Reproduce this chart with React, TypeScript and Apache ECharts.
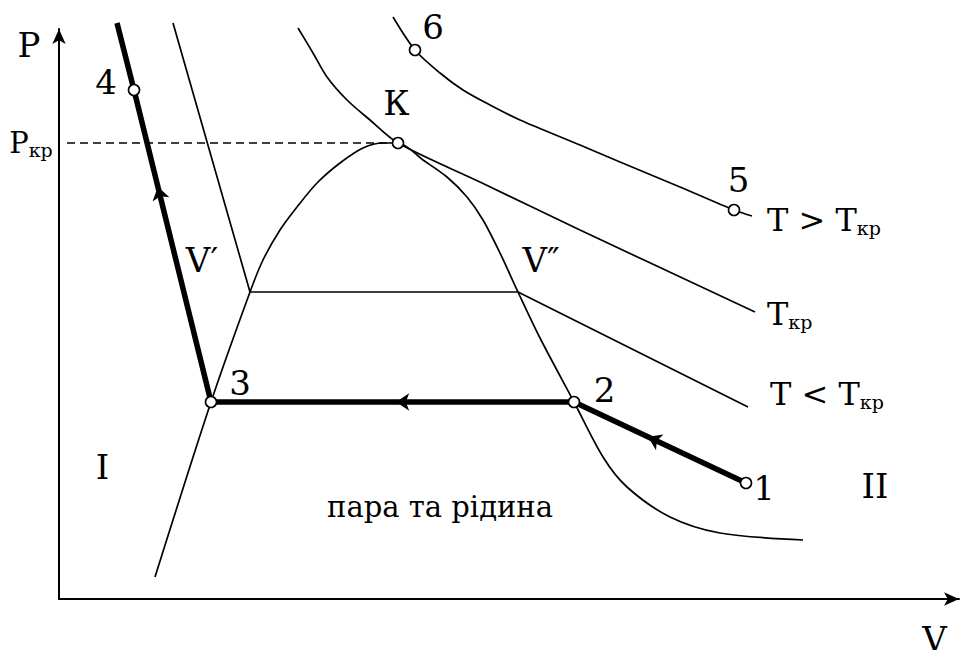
import React, { useEffect, useRef } from 'react';
import * as echarts from 'echarts';

// Axis ranges: volume V (horizontal) and pressure P (vertical), arbitrary units
const V_MAX = 90;
const P_MAX = 57;

// Isothermal process 1 → 2 → 3 → 4, continuing up the liquid branch past 4
const PROCESS_V = [68.7, 51.5, 15.2, 7.5, 5.8];
const PROCESS_P = [11.6, 19.7, 19.7, 50.9, 57.6];

// Critical point К
const CRIT_V = 33.9;
const CRIT_P = 45.6;
const DASH_START_V = 0.8;

// Boundary of the two-phase region (liquid branch → К → vapour branch)
const SAT_V = [9.6, 15.2, 19.1, 20.4, 22.1, 23.8, 25.8, 28.1, 30.4, 32.4, 33.9, 36.4, 38.8, 40.8, 42.4, 44.1, 45.9, 48.1, 51.5, 54.4, 56.8, 61.1, 66.1, 74.4];
const SAT_P = [2.2, 19.7, 30.7, 33.9, 36.9, 39.2, 41.6, 43.6, 45.1, 45.6, 45.6, 43.9, 42.2, 40.2, 37.9, 34.6, 30.7, 26.1, 19.7, 14.2, 11.2, 8.2, 6.6, 5.9];

// Critical isotherm T_кр
const T_CR_V = [23.9, 25.4, 26.8, 28.8, 31.1, 33.9, 42.1, 52.1, 69.6];
const T_CR_P = [57.1, 54.6, 52.2, 49.9, 47.9, 45.6, 41.7, 36.9, 28.7];

// Isotherm T > T_кр (points 6 and 5 lie on it)
const T_HI_V = [33.4, 35.6, 38.1, 40.4, 43.1, 46.1, 52.1, 56.1, 62.1, 67.5, 69.3];
const T_HI_P = [58.2, 54.9, 52.6, 50.9, 49.4, 47.9, 45.4, 43.7, 41.2, 38.9, 38.3];
const POINT_6 = 1;
const POINT_5 = 9;

// Isotherm T < T_кр with its horizontal two-phase segment V′ … V″
const T_LO_V = [11.4, 19.1, 45.9, 68.9];
const T_LO_P = [57.6, 30.7, 30.7, 19.2];

// Direction arrows on the process: segment start index and position along it
const ARROW_FROM = [0, 1, 2];
const ARROW_AT = [0.57, 0.49, 0.69];

// Single-symbol labels: [V, P, text]
const LABELS: [number, number, string][] = [
  [-3.0, 55.4, 'P'],
  [87.55, -4.0, 'V'],
  [33.75, 49.65, 'К'],
  [70.5, 11.15, '1'],
  [54.55, 20.9, '2'],
  [18.1, 21.65, '3'],
  [4.7, 51.7, '4'],
  [67.95, 41.9, '5'],
  [37.4, 57.2, '6'],
  [14.3, 33.9, 'V′'],
  [48.2, 33.9, 'V″'],
  [4.35, 13.25, 'I'],
  [81.6, 11.35, 'II'],
];

// Caption of the two-phase region
const REGION_CAPTION: [number, number, string] = [38.1, 9.2, 'пара та рідина'];

// Isotherm captions with subscript: [V, P, main text, subscript]
const ISO_LABELS: [number, number, string, string][] = [
  [70.8, 37.95, 'T > T', 'кр'],
  [70.8, 28.55, 'T', 'кр'],
  [71.1, 20.55, 'T < T', 'кр'],
];
const P_KR_LABEL_V = -2.8;

const FONT = 'DejaVu Serif';
const GRID = { left: 59, top: 29, width: 900, height: 570 };

function pairs(xs: number[], ys: number[]) {
  return xs.map((x, i) => [x, ys[i]]);
}

function buildOption() {
  const black = '#000';
  const thin = { color: black, width: 1.7 };
  const sx = GRID.width / V_MAX;
  const sy = GRID.height / P_MAX;

  const markers = [
    [PROCESS_V[0], PROCESS_P[0]],
    [PROCESS_V[1], PROCESS_P[1]],
    [PROCESS_V[2], PROCESS_P[2]],
    [PROCESS_V[3], PROCESS_P[3]],
    [T_HI_V[POINT_5], T_HI_P[POINT_5]],
    [T_HI_V[POINT_6], T_HI_P[POINT_6]],
    [CRIT_V, CRIT_P],
  ];

  const arrows = ARROW_FROM.map((i, k) => {
    const t = ARROW_AT[k];
    const dv = PROCESS_V[i + 1] - PROCESS_V[i];
    const dp = PROCESS_P[i + 1] - PROCESS_P[i];
    const rot = (Math.atan2(-dv * sx, dp * sy) * 180) / Math.PI;
    return {
      value: [PROCESS_V[i] + dv * t, PROCESS_P[i] + dp * t],
      symbolRotate: rot,
    };
  });

  const labelData: any[] = LABELS.map(([v, p, text]) => ({
    value: [v, p],
    label: { formatter: `{b|${text}}`, align: 'center' },
  }));
  labelData.push({
    value: [REGION_CAPTION[0], REGION_CAPTION[1]],
    label: { formatter: `{c|${REGION_CAPTION[2]}}`, align: 'center' },
  });
  ISO_LABELS.forEach(([v, p, main, sub]) => {
    labelData.push({
      value: [v, p],
      label: { formatter: `{m|${main}}{s|${sub}}`, align: 'left' },
    });
  });
  labelData.push({
    value: [P_KR_LABEL_V, CRIT_P],
    label: { formatter: '{pm|P}{ps|кр}', align: 'center' },
  });

  const axisCommon = {
    type: 'value',
    min: 0,
    axisLine: {
      show: true,
      symbol: ['none', 'arrow'],
      symbolSize: [10, 15],
      lineStyle: { color: black, width: 2 },
    },
    axisTick: { show: false },
    axisLabel: { show: false },
    splitLine: { show: false },
  };

  const tok = (size: number, lh: number, extra: any = {}) => ({
    fontFamily: FONT,
    fontSize: size,
    lineHeight: lh,
    color: black,
    ...extra,
  });

  return {
    animation: false,
    backgroundColor: '#fff',
    textStyle: { fontFamily: FONT, color: black },
    grid: { ...GRID, containLabel: false, outerBoundsMode: 'none' },
    xAxis: { ...axisCommon, max: V_MAX },
    yAxis: { ...axisCommon, max: P_MAX },
    series: [
      {
        type: 'line', name: 'dome', data: pairs(SAT_V, SAT_P), smooth: 0.3,
        showSymbol: false, symbol: 'none', clip: false, lineStyle: thin, silent: true,
      },
      {
        type: 'line', name: 'T_cr', data: pairs(T_CR_V, T_CR_P), smooth: 0.3,
        showSymbol: false, symbol: 'none', clip: false, lineStyle: thin, silent: true,
      },
      {
        type: 'line', name: 'T_hi', data: pairs(T_HI_V, T_HI_P), smooth: 0.3,
        showSymbol: false, symbol: 'none', clip: false, lineStyle: thin, silent: true,
      },
      {
        type: 'line', name: 'T_lo', data: pairs(T_LO_V, T_LO_P),
        showSymbol: false, symbol: 'none', clip: false, lineStyle: thin, silent: true,
      },
      {
        type: 'line', name: 'p_cr', data: [[DASH_START_V, CRIT_P], [CRIT_V, CRIT_P]],
        showSymbol: false, symbol: 'none', clip: false, silent: true,
        lineStyle: { color: black, width: 1.5, type: [8, 5] },
      },
      {
        type: 'line', name: 'process', data: pairs(PROCESS_V, PROCESS_P),
        showSymbol: false, symbol: 'none', clip: false, silent: true,
        lineStyle: { color: black, width: 5.5, join: 'round' },
      },
      {
        type: 'scatter', name: 'arrows', data: arrows, symbol: 'arrow',
        symbolSize: [13, 13], clip: false, silent: true, z: 4,
        itemStyle: { color: black, opacity: 1 },
      },
      {
        type: 'scatter', name: 'states', data: markers, symbol: 'circle',
        symbolSize: 11, clip: false, silent: true, z: 5,
        itemStyle: { color: '#fff', borderColor: black, borderWidth: 1.6, opacity: 1 },
      },
      {
        type: 'scatter', name: 'labels', data: labelData, symbol: 'circle',
        symbolSize: 1, clip: false, silent: true, z: 6,
        itemStyle: { color: 'rgba(0,0,0,0)', opacity: 1 },
        label: {
          show: true,
          position: 'inside',
          verticalAlign: 'middle',
          color: black,
          fontFamily: FONT,
          rich: {
            b: tok(34, 38),
            c: tok(29, 34),
            m: tok(32, 36),
            s: tok(19, 18, { verticalAlign: 'bottom' }),
            pm: tok(29, 32),
            ps: tok(19, 19, { verticalAlign: 'bottom' }),
          },
        },
      },
    ],
  };
}

export default function App() {
  const ref = useRef<HTMLDivElement>(null);
  useEffect(() => {
    if (!ref.current) return;
    const chart = echarts.init(ref.current, null, { renderer: 'svg' });
    chart.setOption(buildOption() as any);
    return () => chart.dispose();
  }, []);
  return (
    <div
      ref={ref}
      style={{ position: 'fixed', left: 0, top: 0, width: 966, height: 650, background: '#fff' }}
    />
  );
}
